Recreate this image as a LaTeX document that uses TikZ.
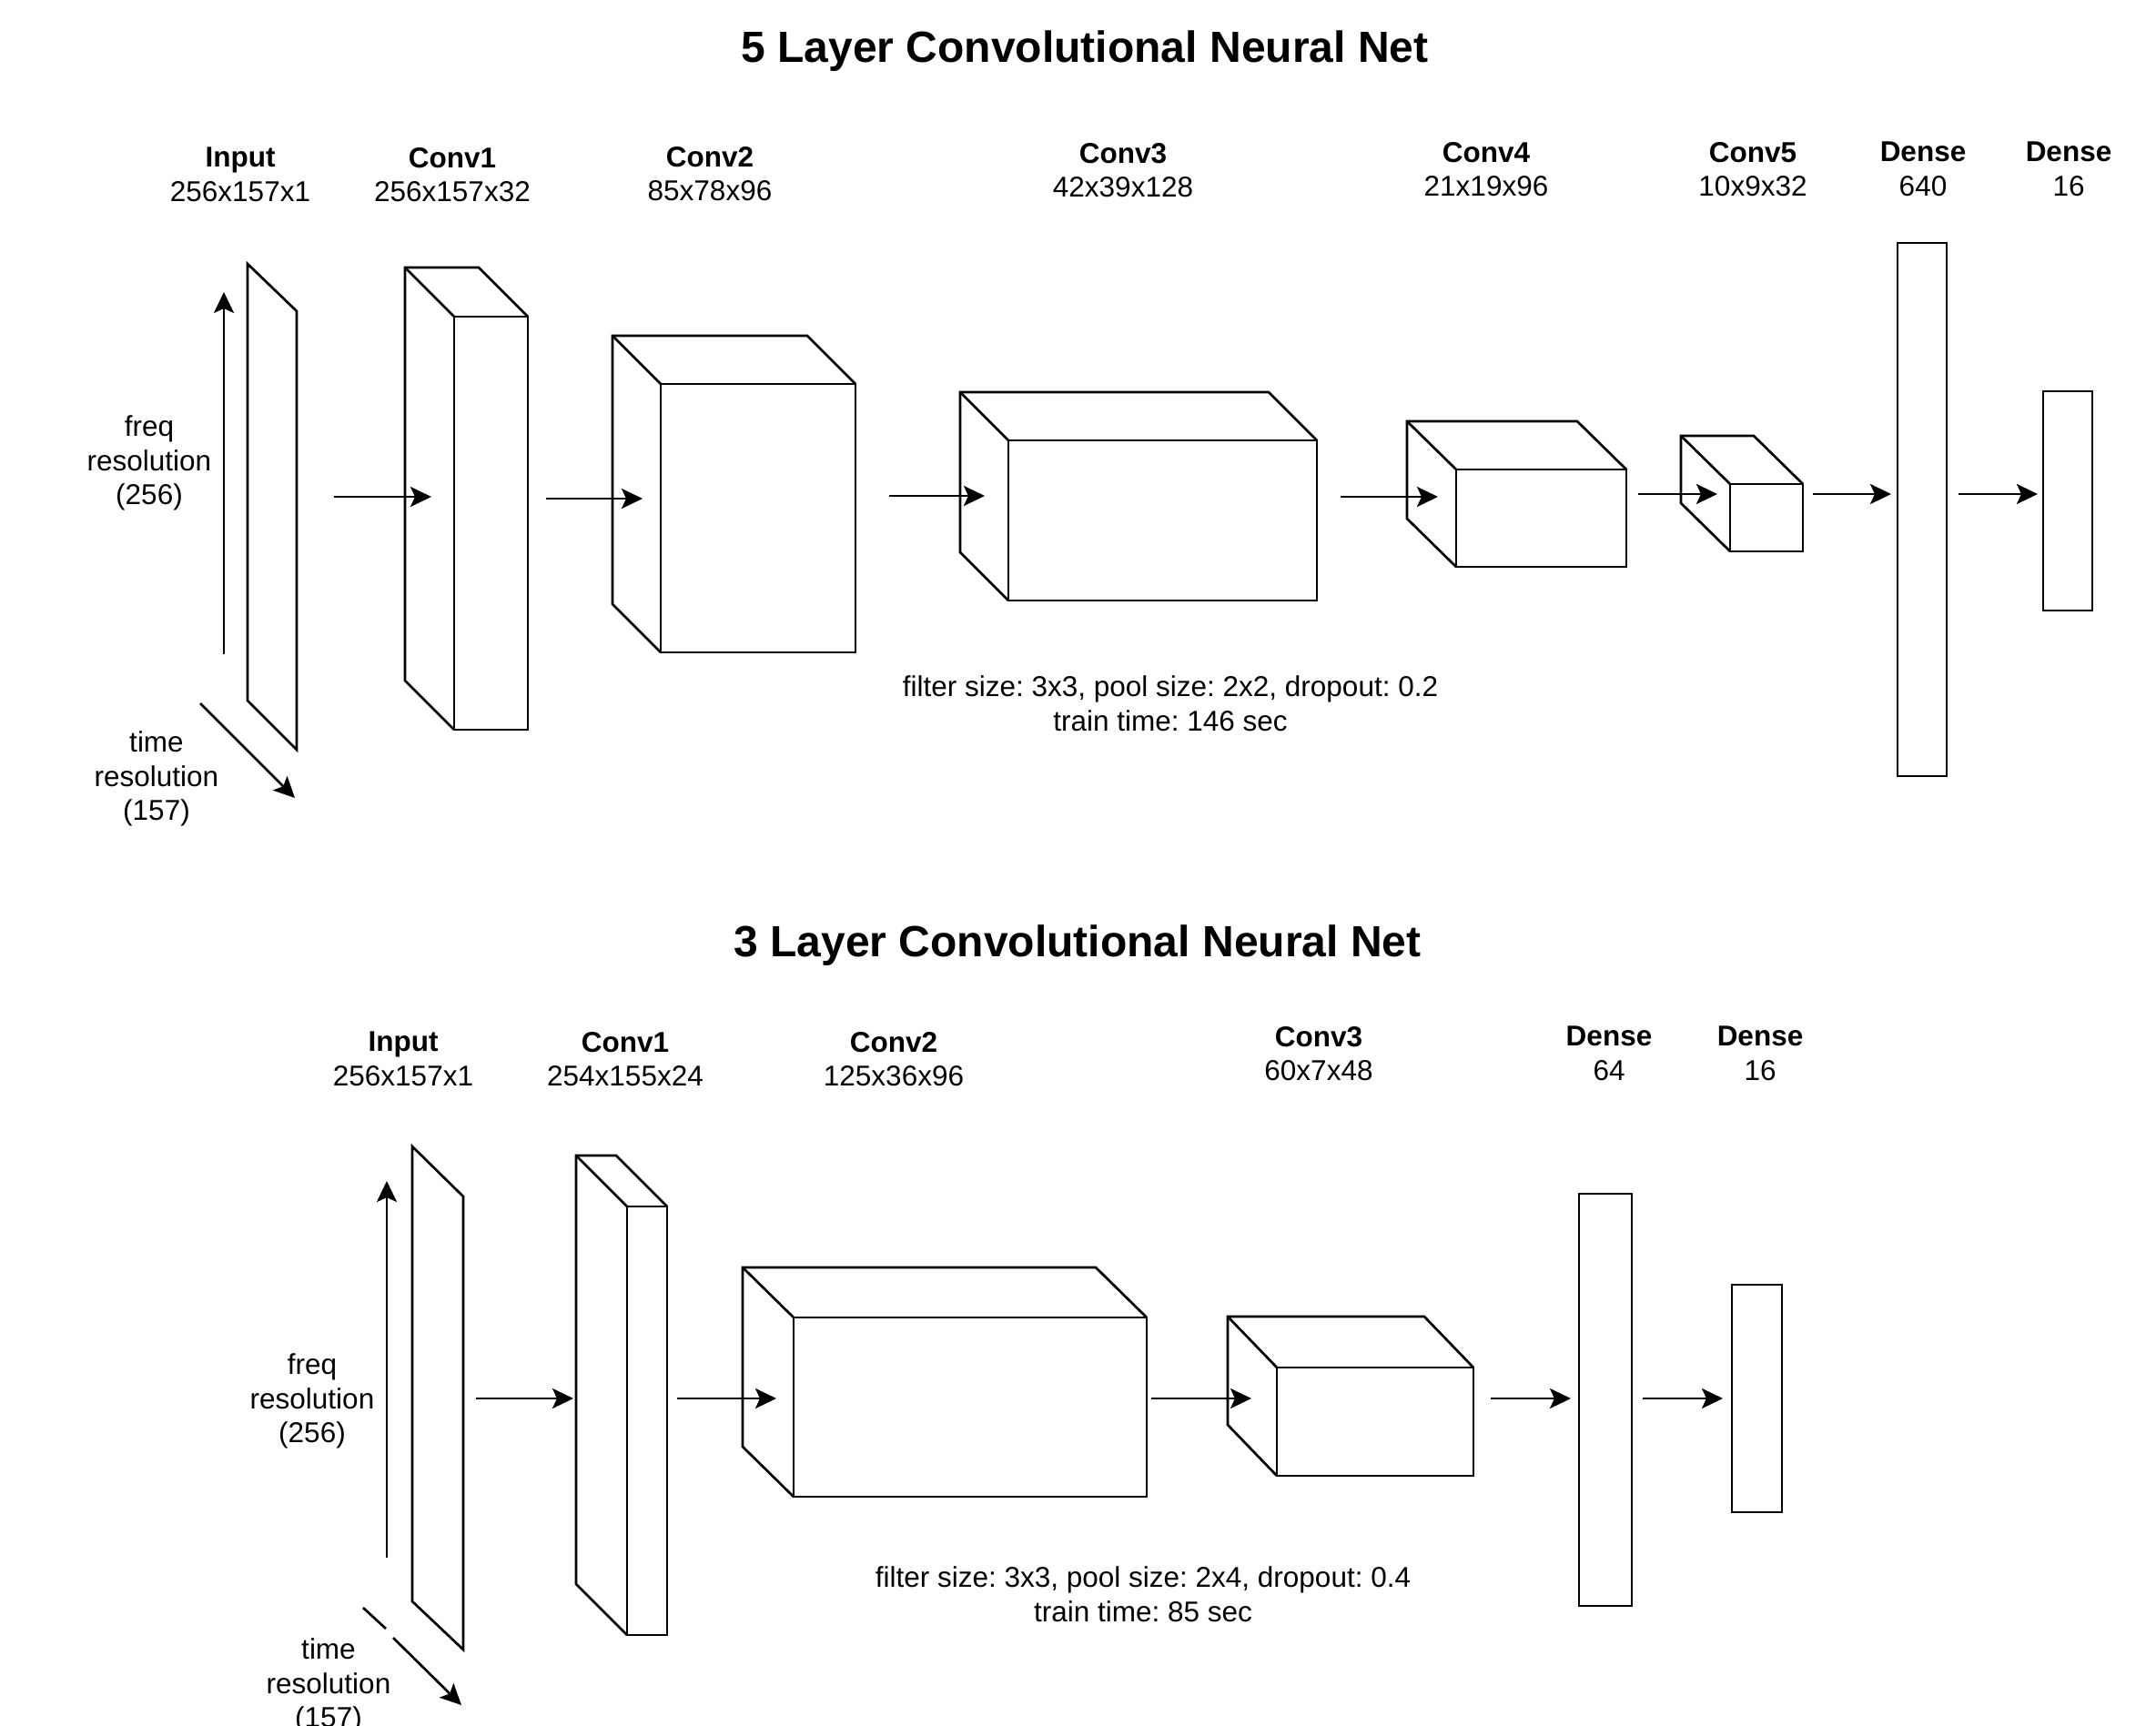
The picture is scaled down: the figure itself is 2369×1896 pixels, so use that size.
\documentclass[tikz,border=0pt]{standalone}
\usepackage{fontspec}
\setmainfont{Liberation Sans}
\usetikzlibrary{arrows.meta,calc}
\frenchspacing
\tikzset{
  edge/.style={line width=2.7pt, line join=miter},
  face/.style={draw, line width=2.7pt, rectangle, inner sep=0pt, outer sep=0pt},
  arr/.style={line width=2.7pt, -{Stealth[length=23pt,width=22pt,inset=5pt]}},
  lbl/.style={align=center, font=\fontsize{31.5}{37.5}\selectfont, inner sep=0pt},
  ttl/.style={font=\fontsize{48}{56}\selectfont\bfseries, inner sep=0pt},
}
% name, x1, y1, x2, y2 (front face), depth dx, dy
\newcommand\mycube[7]{%
  \node[face, minimum width={(#4-#2)*1pt}, minimum height={(#5-#3)*1pt}] (#1) at ({(#2+#4)/2},{(#3+#5)/2}) {};
  \draw[edge] (#1.south west) -- ++(-#6,-#7) |- ($(#1.north east)+(-#6,-#7)$) -- (#1.north east);
  \draw[edge] (#1.north west) -- ++(-#6,-#7);
}
\begin{document}
\begin{tikzpicture}[x=1pt,y=-1pt]
\useasboundingbox (0,0) rectangle (2369,1896);

% ================= 5 layer =================
\node[ttl] (t1) at (1192,56) {5 Layer Convolutional Neural Net};

% input plane
\draw[edge] (272,290) -- (326,342) -- (326,824) -- (272,770) -- cycle;
\coordinate (in1) at (299,557);

\mycube{a1}{499}{348}{580}{802}{54}{54}
\mycube{a2}{726}{422}{940}{717}{53}{53}
\mycube{a3}{1108}{484}{1447}{660}{53}{53}
\mycube{a4}{1600}{516}{1787}{623}{54}{53}
\mycube{a5}{1901}{532}{1981}{606}{54}{53}
\node[face, minimum width=54pt, minimum height=586pt] (a6) at (2112,560) {};
\node[face, minimum width=54pt, minimum height=241pt] (a7) at (2272,550.5) {};

% labels
\node[lbl] (la0) at (264,192) {{\bfseries Input}\\256x157x1};
\node[lbl] (la1) at (497,192) {{\bfseries Conv1}\\256x157x32};
\node[lbl] (la2) at (780,191) {{\bfseries Conv2}\\85x78x96};
\node[lbl] (la3) at (1234,187) {{\bfseries Conv3}\\42x39x128};
\node[lbl] (la4) at (1633,186) {{\bfseries Conv4}\\21x19x96};
\node[lbl] (la5) at (1926,186) {{\bfseries Conv5}\\10x9x32};
\node[lbl] (la6) at (2113,186) {{\bfseries Dense}\\640};
\node[lbl] (la7) at (2273,186) {{\bfseries Dense}\\16};

\node[lbl] (fq1) at (164,509) {freq\\resolution\\(256)};
\node[lbl] (tm1) at (172,856) {time\\resolution\\(157)};
\node[lbl] (fl1) at (1286,773) {filter size: 3x3, pool size: 2x2, dropout: 0.2\\train time: 146 sec};

% arrows
\coordinate (p1s) at (367,546); \coordinate (p1e) at (474,546);
\coordinate (p2s) at (600,548); \coordinate (p2e) at (706,548);
\coordinate (p3s) at (977,545); \coordinate (p3e) at (1082,545);
\coordinate (p4s) at (1473,546); \coordinate (p4e) at (1580,546);
\coordinate (p5s) at (1800,543); \coordinate (p5e) at (1887,543);
\coordinate (p6s) at (1992,543); \coordinate (p6e) at (2078,543);
\coordinate (p7s) at (2152,543); \coordinate (p7e) at (2239,543);
\draw[arr] (p1s) -- (p1e);
\draw[arr] (p2s) -- (p2e);
\draw[arr] (p3s) -- (p3e);
\draw[arr] (p4s) -- (p4e);
\draw[arr] (p5s) -- (p5e);
\draw[arr] (p6s) -- (p6e);
\draw[arr] (p7s) -- (p7e);
\coordinate (f1s) at (246,719); \coordinate (f1e) at (246,321);
\coordinate (r1s) at (220,773); \coordinate (r1e) at (324,877);
\draw[arr] (f1s) -- (f1e);
\draw[arr] (r1s) -- (r1e);

% ================= 3 layer =================
\node[ttl] (t2) at (1184,1039) {3 Layer Convolutional Neural Net};

\draw[edge] (453,1260) -- (509,1315) -- (509,1813) -- (453,1760) -- cycle;
\coordinate (in2) at (481,1537);

\mycube{b1}{689}{1326}{733}{1797}{56}{56}
\mycube{b2}{872}{1448}{1260}{1645}{56}{55}
\mycube{b3}{1403}{1503}{1619}{1622}{54}{56}
\node[face, minimum width=58pt, minimum height=453pt] (b4) at (1764,1538.5) {};
\node[face, minimum width=55pt, minimum height=250pt] (b5) at (1930.5,1537) {};

\node[lbl] (lb0) at (443,1164) {{\bfseries Input}\\256x157x1};
\node[lbl] (lb1) at (687,1164) {{\bfseries Conv1}\\254x155x24};
\node[lbl] (lb2) at (982,1164) {{\bfseries Conv2}\\125x36x96};
\node[lbl] (lb3) at (1449,1158) {{\bfseries Conv3}\\60x7x48};
\node[lbl] (lb4) at (1768,1158) {{\bfseries Dense}\\64};
\node[lbl] (lb5) at (1934,1158) {{\bfseries Dense}\\16};

\node[lbl] (fq2) at (343,1540) {freq\\resolution\\(256)};
\node[lbl] (tm2) at (361,1853) {time\\resolution\\(157)};
\node[lbl] (fl2) at (1256,1752) {filter size: 3x3, pool size: 2x4, dropout: 0.4\\train time: 85 sec};

\coordinate (q1s) at (523,1537); \coordinate (q1e) at (630,1537);
\coordinate (q2s) at (744,1537); \coordinate (q2e) at (853,1537);
\coordinate (q3s) at (1265,1537); \coordinate (q3e) at (1375,1537);
\coordinate (q4s) at (1638,1537); \coordinate (q4e) at (1726,1537);
\coordinate (q5s) at (1805,1537); \coordinate (q5e) at (1893,1537);
\draw[arr] (q1s) -- (q1e);
\draw[arr] (q2s) -- (q2e);
\draw[arr] (q3s) -- (q3e);
\draw[arr] (q4s) -- (q4e);
\draw[arr] (q5s) -- (q5e);
\coordinate (f2s) at (425,1712); \coordinate (f2e) at (425,1298);
\draw[arr] (f2s) -- (f2e);
\coordinate (r2s) at (399,1767); \coordinate (r2m) at (424,1790);
\coordinate (r2n) at (432,1800); \coordinate (r2e) at (507,1874);
\draw[edge] (r2s) -- (r2m);
\draw[arr] (r2n) -- (r2e);
\end{tikzpicture}
\end{document}
